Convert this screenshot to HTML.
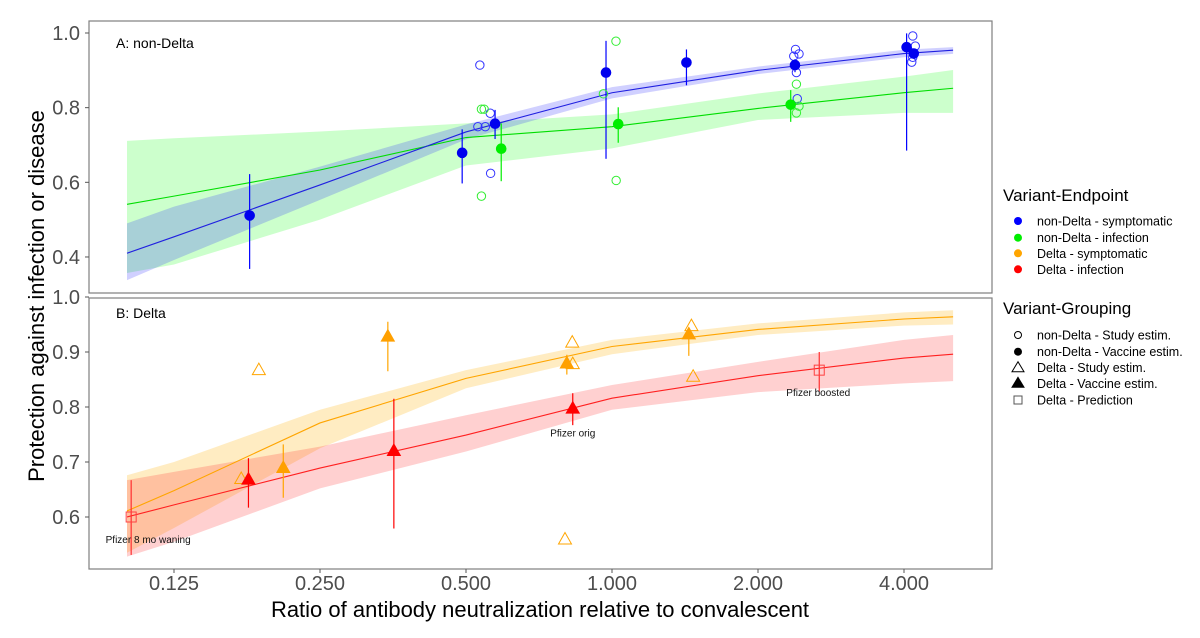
<!DOCTYPE html>
<html><head><meta charset="utf-8"><style>
body{margin:0;background:#fff;}
svg text{font-family:"Liberation Sans",Arial,sans-serif;}
</style></head><body>
<svg id="chart" width="1200" height="633" viewBox="0 0 1200 633" xmlns="http://www.w3.org/2000/svg">
<g id="bands"></g><g id="lines"></g><g id="marks"></g><g id="axes"></g>
</svg>
<script>
// ---- data ----
const xTicks = [0.125, 0.25, 0.5, 1, 2, 4];
const xTickLabels = ["0.125","0.250","0.500","1.000","2.000","4.000"];
const yTicksA = [0.4,0.6,0.8,1.0];
const yTicksB = [0.6,0.7,0.8,0.9,1.0];
const fitGrid = [0.1,0.125,0.25,0.5,1,2,4,5.05];
const blueMid = [0.41,0.454,0.593,0.735,0.84,0.90,0.945,0.954];
const blueLo  = [0.338,0.392,0.553,0.715,0.825,0.89,0.935,0.944];
const blueHi  = [0.49,0.535,0.642,0.755,0.855,0.91,0.955,0.962];
const greenMid = [0.541,0.563,0.633,0.72,0.749,0.798,0.84,0.852];
const greenLo  = [0.357,0.38,0.50,0.645,0.691,0.767,0.786,0.786];
const greenHi  = [0.711,0.718,0.736,0.758,0.782,0.838,0.883,0.901];
const orangeMid = [0.611,0.648,0.771,0.852,0.91,0.941,0.96,0.964];
const orangeLo  = [0.535,0.58,0.725,0.834,0.896,0.931,0.948,0.95];
const orangeHi  = [0.676,0.70,0.795,0.867,0.922,0.952,0.972,0.976];
const redMid = [0.60,0.622,0.689,0.749,0.816,0.857,0.889,0.896];
const redLo  = [0.528,0.555,0.652,0.719,0.795,0.827,0.843,0.847];
const redHi  = [0.667,0.682,0.728,0.785,0.84,0.882,0.922,0.931];
// vaccine estimates (filled): ratio, value, lo, hi
const blueVacX = [0.179,0.491,0.574,0.972,1.424,2.384,4.05,4.19];
const blueVacY = [0.511,0.679,0.757,0.894,0.921,0.914,0.962,0.945];
const blueVacLo = [0.368,0.597,0.716,0.663,0.86,0.895,0.685,0.935];
const blueVacHi = [0.622,0.742,0.794,0.979,0.956,0.93,0.999,0.955];
const greenVacX = [0.591,1.03,2.336];
const greenVacY = [0.690,0.756,0.808];
const greenVacLo = [0.603,0.706,0.762];
const greenVacHi = [0.758,0.801,0.847];
// study estimates (open circles)
const blueStudyX = [0.534,0.561,0.529,0.548,0.562,2.39,2.37,2.43,2.40,2.41,4.17,4.22,4.17,4.15];
const blueStudyY = [0.914,0.785,0.749,0.749,0.624,0.956,0.938,0.944,0.894,0.824,0.992,0.965,0.935,0.922];
const greenStudyX = [0.538,0.545,0.538,1.019,0.96,1.02,2.4,2.43,2.4];
const greenStudyY = [0.796,0.796,0.563,0.978,0.837,0.605,0.863,0.804,0.786];
// Delta
const orangeVacX = [0.345,0.21,0.807,1.44];
const orangeVacY = [0.928,0.689,0.879,0.932];
const orangeVacLo = [0.865,0.635,0.859,0.893];
const orangeVacHi = [0.955,0.732,0.895,0.943];
const redVacX = [0.178,0.355,0.83];
const redVacY = [0.668,0.72,0.797];
const redVacLo = [0.617,0.579,0.767];
const redVacHi = [0.707,0.815,0.825];
const orangeStudyX = [0.187,0.172,0.828,0.83,0.80,1.458,1.47];
const orangeStudyY = [0.867,0.669,0.917,0.878,0.559,0.947,0.855];
const predX = [0.102,2.675];
const predY = [0.60,0.867];
const predLo = [0.531,0.828];
const predHi = [0.667,0.9];
const predLabels = ["Pfizer 8 mo waning","Pfizer boosted"];
const origLabelX = 0.83, origLabelY = 0.797;

// ---- scales ----
const PL=89, PR=992, A_T=21, A_B=293, B_T=298, B_B=569;
function xs(r){return 174+146*Math.log2(r/0.125);}
function yA(v){return 33+(1-v)*373.3;}
function yB(v){return 297+(1-v)*550;}
const NS="http://www.w3.org/2000/svg";
function mk(parent,tag,attrs){const e=document.createElementNS(NS,tag);for(const k in attrs)e.setAttribute(k,attrs[k]);document.getElementById(parent).appendChild(e);return e;}

function band(lo,hi,ys,fill,name){
  let d="M"+fitGrid.map((r,i)=>xs(r)+","+ys(hi[i])).join("L")+"L"+fitGrid.slice().reverse().map((r,j)=>{const i=fitGrid.length-1-j;return xs(r)+","+ys(lo[i]);}).join("L")+"Z";
  const e=mk("bands","path",{d:d,fill:fill,stroke:"none"});
  
  
}
function line(mid,ys,col,name){
  const e=mk("lines","polyline",{points:fitGrid.map((r,i)=>xs(r)+","+ys(mid[i])).join(" "),fill:"none",stroke:col,"stroke-width":1.1});
  
  
}
band(greenLo,greenHi,yA,"rgba(0,255,0,0.2)","infection-ci-band-a");
band(blueLo,blueHi,yA,"rgba(40,40,255,0.22)","symptomatic-ci-band-a");
band(orangeLo,orangeHi,yB,"rgba(255,200,80,0.35)","symptomatic-ci-band-b");
band(redLo,redHi,yB,"rgba(255,40,40,0.22)","infection-ci-band-b");
line(greenMid,yA,"#00dd00","infection-fit-line-a");
line(blueMid,yA,"#2020e0","symptomatic-fit-line-a");
line(orangeMid,yB,"#ffa500","symptomatic-fit-line-b");
line(redMid,yB,"#ff2020","infection-fit-line-b");

function errbar(x,lo,hi,ys,col){
  const e=mk("marks","line",{x1:xs(x),x2:xs(x),y1:ys(lo),y2:ys(hi),stroke:col,"stroke-width":1.2});
  
  
}
function circle(x,y,ys,col,filled){
  const e=mk("marks","circle",{cx:xs(x),cy:ys(y),r:filled?4.8:4.2,fill:filled?col:"none",stroke:col,"stroke-width":1});
  
  
}
function tri(x,y,ys,col,filled){
  const cx=xs(x),cy=ys(y);
  const e=mk("marks","polygon",{points:`${cx},${cy-7} ${cx-6.5},${cy+4.5} ${cx+6.5},${cy+4.5}`,fill:filled?col:"none",stroke:col,"stroke-width":1});
  
  
}
blueVacX.forEach((x,i)=>errbar(x,blueVacLo[i],blueVacHi[i],yA,"#0000ff"));
greenVacX.forEach((x,i)=>errbar(x,greenVacLo[i],greenVacHi[i],yA,"#00ee00"));
blueStudyX.forEach((x,i)=>circle(x,blueStudyY[i],yA,"#3333ff",false));
greenStudyX.forEach((x,i)=>circle(x,greenStudyY[i],yA,"#33ee33",false));
blueVacX.forEach((x,i)=>circle(x,blueVacY[i],yA,"#0000ee",true));
greenVacX.forEach((x,i)=>circle(x,greenVacY[i],yA,"#00ee00",true));
orangeVacX.forEach((x,i)=>errbar(x,orangeVacLo[i],orangeVacHi[i],yB,"#ffa500"));
redVacX.forEach((x,i)=>errbar(x,redVacLo[i],redVacHi[i],yB,"#ff0000"));
predX.forEach((x,i)=>errbar(x,predLo[i],predHi[i],yB,"#ff3030"));
orangeStudyX.forEach((x,i)=>tri(x,orangeStudyY[i],yB,"#ffa500",false));
orangeVacX.forEach((x,i)=>tri(x,orangeVacY[i],yB,"#ffa000",true));
redVacX.forEach((x,i)=>tri(x,redVacY[i],yB,"#ff0000",true));
predX.forEach((x,i)=>{
  const e=mk("marks","rect",{x:xs(x)-5,y:yB(predY[i])-5,width:10,height:10,fill:"none",stroke:"#ff4040","stroke-width":1});
  
  
});
function txt(x,y,s,attrs,name){
  const e=mk("axes","text",Object.assign({x:x,y:y},attrs));e.textContent=s;
  
  
  return e;
}
txt(xs(predX[0])+17,yB(predY[0])+26,predLabels[0],{"font-size":10,"text-anchor":"middle",fill:"#111"},"prediction-label-waning");
txt(xs(predX[1])-1,yB(predY[1])+26,predLabels[1],{"font-size":10,"text-anchor":"middle",fill:"#111"},"prediction-label-boosted");
txt(xs(origLabelX),yB(origLabelY)+28,"Pfizer orig",{"font-size":10,"text-anchor":"middle",fill:"#111"},"prediction-label-orig");

// panels
[[A_T,A_B,"panel-a-border"],[B_T,B_B,"panel-b-border"]].forEach(p=>{
  const e=mk("axes","rect",{x:PL,y:p[0],width:PR-PL,height:p[1]-p[0],fill:"none",stroke:"#7f7f7f","stroke-width":1.2});
  
  
});
txt(116,48,"A: non-Delta",{"font-size":14,fill:"#000"},"panel-a-title");
txt(116,318,"B: Delta",{"font-size":14,fill:"#000"},"panel-b-title");
yTicksA.forEach(v=>{
  mk("axes","line",{x1:PL-4,x2:PL,y1:yA(v),y2:yA(v),stroke:"#555"});
  txt(80,yA(v)+7,v.toFixed(1),{"font-size":20,"text-anchor":"end",fill:"#4d4d4d"},"y-tick-label-a");
});
yTicksB.forEach(v=>{
  mk("axes","line",{x1:PL-4,x2:PL,y1:yB(v),y2:yB(v),stroke:"#555"});
  txt(80,yB(v)+7,v.toFixed(1),{"font-size":20,"text-anchor":"end",fill:"#4d4d4d"},"y-tick-label-b");
});
xTicks.forEach((r,i)=>{
  mk("axes","line",{x1:xs(r),x2:xs(r),y1:B_B,y2:B_B+4,stroke:"#555"});
  txt(xs(r),590,xTickLabels[i],{"font-size":20,"text-anchor":"middle",fill:"#4d4d4d"},"x-tick-label");
});
txt(540,617,"Ratio of antibody neutralization relative to convalescent",{"font-size":22,"text-anchor":"middle",fill:"#000"},"x-axis-title");
txt(0,0,"Protection against infection or disease",{"font-size":22,"text-anchor":"middle",fill:"#000",transform:"translate(44,296) rotate(-90)"},"y-axis-title");

// legends
txt(1003,201,"Variant-Endpoint",{"font-size":17,fill:"#000"},"legend-title-endpoint");
const epNames=["non-Delta - symptomatic","non-Delta - infection","Delta - symptomatic","Delta - infection"];
const epCols=["#0000ff","#00ee00","#ffa500","#ff0000"];
const epY=[221,237.7,253.3,269.3];
epNames.forEach((n,i)=>{
  const c=mk("axes","circle",{cx:1018,cy:epY[i],r:4,fill:epCols[i]});
  
  
  txt(1037,epY[i]+4.5,n,{"font-size":12.5,fill:"#000"},"legend-entry");
});
txt(1003,314,"Variant-Grouping",{"font-size":17,fill:"#000"},"legend-title-grouping");
const grNames=["non-Delta - Study estim.","non-Delta - Vaccine estim.","Delta - Study estim.","Delta - Vaccine estim.","Delta - Prediction"];
const grY=[335,351.7,367.7,383.3,400];
grNames.forEach((n,i)=>{
  const cx=1018,cy=grY[i];let e;
  if(i===0)e=mk("axes","circle",{cx:cx,cy:cy,r:3.5,fill:"none",stroke:"#000"});
  else if(i===1)e=mk("axes","circle",{cx:cx,cy:cy,r:4,fill:"#000"});
  else if(i===4)e=mk("axes","rect",{x:cx-4,y:cy-4,width:8,height:8,fill:"none",stroke:"#555"});
  else e=mk("axes","polygon",{points:`${cx},${cy-6} ${cx-6},${cy+4} ${cx+6},${cy+4}`,fill:i===3?"#000":"none",stroke:"#000"});
  
  
  txt(1037,cy+4.5,n,{"font-size":12.5,fill:"#000"},"legend-entry");
});
</script>
</body></html>
